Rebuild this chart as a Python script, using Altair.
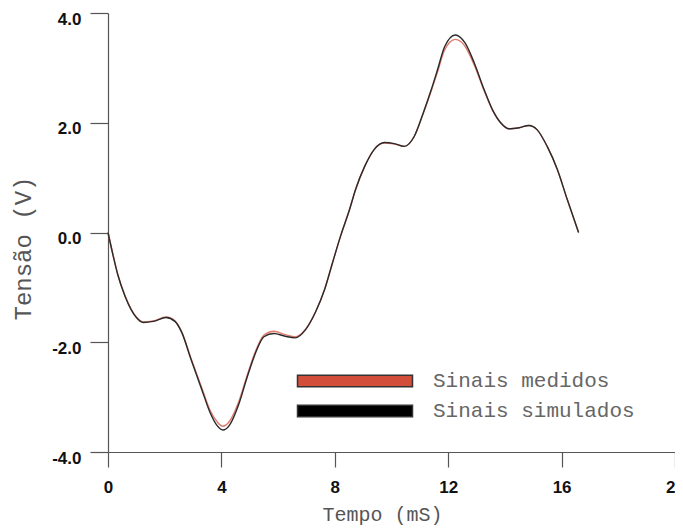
import altair as alt
import pandas as pd

# Time (ms) sample points
tempo = [0.0, 0.18, 0.35, 0.6, 0.81, 1.0, 1.25, 1.6, 2.05, 2.36, 2.6, 2.92, 3.3,
         3.6, 3.85, 4.05, 4.3, 4.6, 4.9, 5.2, 5.5, 5.85, 6.25, 6.6, 6.97, 7.32,
         7.64, 7.92, 8.2, 8.52, 8.73, 9.05, 9.4, 9.75, 10.1, 10.45, 10.8, 11.1,
         11.4, 11.62, 11.87, 12.25, 12.6, 12.92, 13.27, 13.56, 13.85, 14.15,
         14.5, 14.85, 15.14, 15.5, 15.85, 16.2, 16.6]

# Simulated signal (black)
simulados = [0.0, -0.42, -0.78, -1.16, -1.4, -1.55, -1.64, -1.62, -1.55, -1.62,
             -1.82, -2.3, -2.85, -3.28, -3.52, -3.6, -3.5, -3.15, -2.65, -2.2,
             -1.9, -1.84, -1.89, -1.92, -1.77, -1.45, -1.04, -0.55, -0.07, 0.42,
             0.78, 1.2, 1.52, 1.64, 1.62, 1.57, 1.75, 2.15, 2.6, 2.96, 3.38, 3.6,
             3.45, 3.09, 2.6, 2.24, 2.0, 1.89, 1.91, 1.95, 1.87, 1.56, 1.15, 0.6,
             0.0]

# Measured signal (red)
medidos = [0.0, -0.41, -0.77, -1.15, -1.39, -1.54, -1.63, -1.61, -1.54, -1.61,
           -1.81, -2.28, -2.82, -3.24, -3.45, -3.53, -3.43, -3.1, -2.62, -2.17,
           -1.87, -1.8, -1.86, -1.9, -1.76, -1.45, -1.04, -0.55, -0.07, 0.42,
           0.78, 1.2, 1.52, 1.63, 1.61, 1.57, 1.75, 2.14, 2.58, 2.92, 3.32, 3.52,
           3.39, 3.05, 2.58, 2.23, 2.0, 1.89, 1.91, 1.95, 1.87, 1.56, 1.15, 0.6,
           0.0]

series = ["Sinais medidos", "Sinais simulados"]
line_colors = ["#e27a6c", "#2a2a2a"]
legend_fill = ["#d24e3a", "#000000"]

x_ticks = [0, 4, 8, 12, 16, 20]
y_ticks = [-4, -2, 0, 2, 4]

df = pd.DataFrame({
    "t": tempo * 2,
    "v": medidos + simulados,
    "serie": [series[0]] * len(tempo) + [series[1]] * len(tempo),
})
leg = pd.DataFrame({"serie": series})

color = alt.Color("serie:N", scale=alt.Scale(domain=series, range=line_colors), legend=None)

lines = alt.Chart(df).mark_line(interpolate="monotone", strokeWidth=1.4).encode(
    x=alt.X("t:Q", scale=alt.Scale(domain=[0, 20], nice=False),
            axis=alt.Axis(values=x_ticks, format="d", title="Tempo (mS)",
                          tickSize=15, labelPadding=12, labelFlush=False,
                          titleX=274, titleY=62, titleBaseline="middle",
                          titleAlign="center", titleAnchor="start")),
    y=alt.Y("v:Q", scale=alt.Scale(domain=[-4, 4], nice=False),
            axis=alt.Axis(values=y_ticks, format=".1f", title="Tensão (V)",
                          labelExpr="replace(datum.label, '\u2212', '-')",
                          tickSize=18, labelPadding=9, labelOffset=6,
                          titleX=-85, titleY=235, titleBaseline="middle",
                          titleAlign="center", titleAnchor="start", titleFontSize=24)),
    color=color,
    order=alt.Order("serie:N", sort="descending"),
)

leg_y = alt.Y("serie:N", scale=alt.Scale(domain=series, range=[368, 398], padding=0), axis=None)

leg_sym = alt.Chart(leg).mark_point(
    shape="M-1,-0.1L1,-0.1L1,0.1L-1,0.1Z", size=13225, filled=True,
    stroke="#333333", strokeWidth=1.5, opacity=1,
).encode(
    x=alt.value(247),
    y=leg_y,
    fill=alt.Fill("serie:N", scale=alt.Scale(domain=series, range=legend_fill), legend=None),
)

leg_txt = alt.Chart(leg).mark_text(
    align="left", baseline="middle", font="Liberation Mono", fontSize=21, color="#666666",
).encode(
    x=alt.value(325),
    y=leg_y,
    text="serie:N",
)

chart = alt.layer(lines, leg_sym, leg_txt).resolve_scale(
    y="independent", color="independent"
).properties(
    width=567, height=439,
    autosize=alt.AutoSizeParams(type="none"),
    padding={"left": 100, "top": 5, "right": 0, "bottom": 74},
).configure_view(stroke=None).configure_axis(
    grid=False,
    domainColor="#555555", tickColor="#555555", domainWidth=1.2, tickWidth=1.2,
    labelFont="Liberation Sans", labelFontWeight="bold", labelFontSize=17,
    labelColor="#111111",
    titleFont="Liberation Mono", titleFontWeight="normal", titleFontSize=20,
    titleColor="#555555",
)

chart.save("out.html", embed_options={"renderer": "svg", "actions": False})
